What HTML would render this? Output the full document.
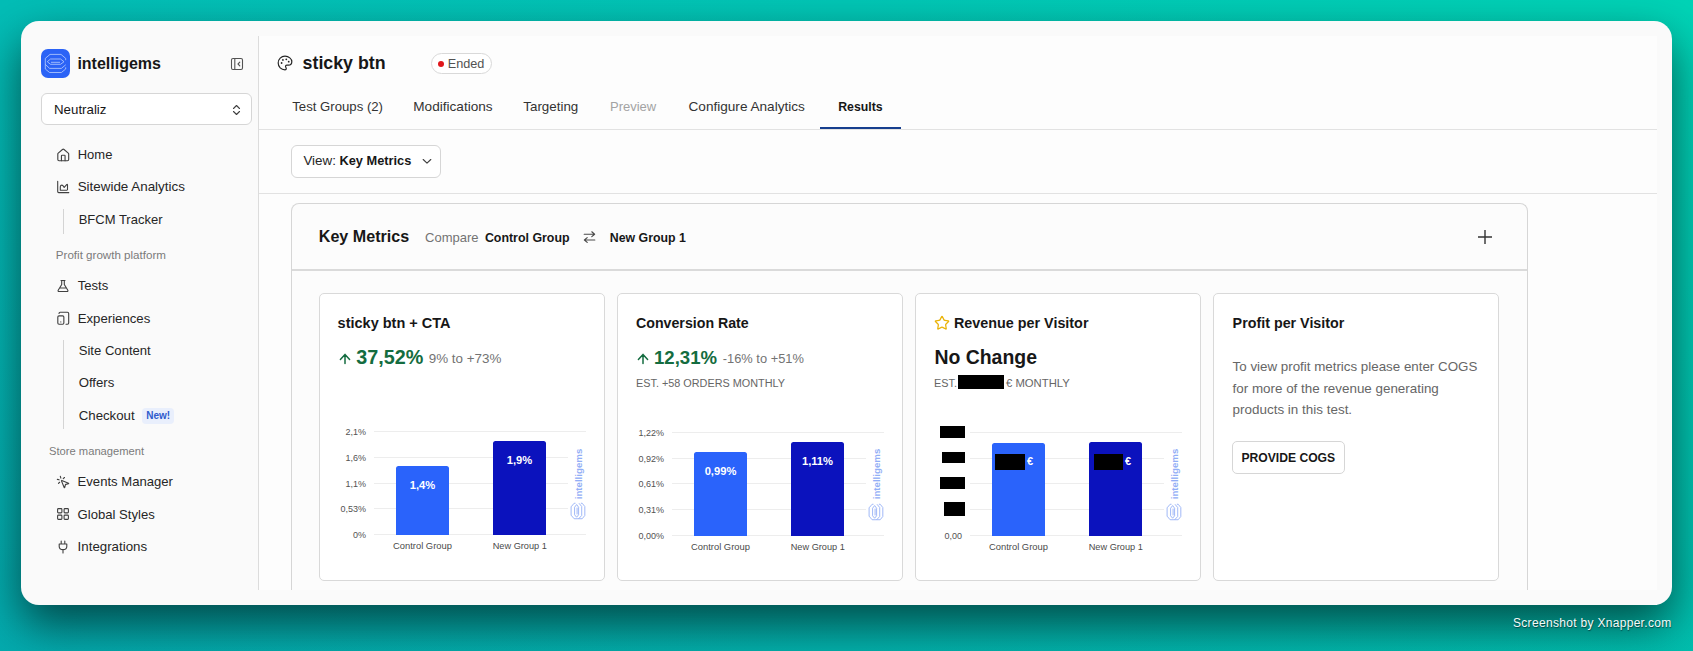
<!DOCTYPE html>
<html><head><meta charset="utf-8"><title>Results</title><style>
*{margin:0;padding:0;box-sizing:border-box}
html,body{width:1693px;height:651px;overflow:hidden}
body{position:relative;font-family:"Liberation Sans",sans-serif;
 background:linear-gradient(180deg,rgba(0,0,0,0) 0%,rgba(10,40,120,0.12) 100%),linear-gradient(90deg,#03bdb6 0%,#02c6b5 50%,#00d3b6 100%);}
.a{position:absolute}
.t{position:absolute;white-space:nowrap;line-height:1}
</style></head>
<body>
<div class="a" style="left:21px;top:21px;width:1651px;height:584px;border-radius:18px;box-shadow:0 20px 46px rgba(0,0,0,0.58);background:#fafafa"></div>
<div class="a" style="left:258px;top:36px;width:1399px;height:554px;background:#fdfdfd;border-left:1px solid #dcdcdc"></div>
<div class="a" style="left:41px;top:49px;width:29px;height:29px;background:#2b63f6;border-radius:7px"></div>
<svg class="a" style="left:41px;top:49px;" width="29" height="29" viewBox="0 0 29 29" fill="none"><g stroke="#c3d4fd" stroke-width="0.75" fill="none" stroke-linejoin="round">
<path d="M4.3 9.4 L9 5.4 L20 5.4 L24.7 9.4"/>
<path d="M4.3 9.4 L4.3 20 L8.6 23.5 L20.4 23.5 L24.7 20 L24.7 18.3"/>
<path d="M24.7 9.4 L24.7 11.2"/>
<path d="M9.5 10 L19.5 10 L23 12.7 L19.5 15.3 L9.5 15.3 L6.3 12.7 Z"/>
<path d="M10 13.3 L19 13.3"/>
<path d="M4.3 15.4 L8.6 19.4 L20.4 19.4 L24.7 15.8"/>
</g></svg>
<div class="t " style="left:77.4px;top:56px;font-size:16px;font-weight:700;color:#171717;">intelligems</div>
<svg class="a" style="left:230px;top:57px;" width="14" height="14" viewBox="0 0 14 14" fill="none"><rect x="1.5" y="1.5" width="11" height="11" rx="1.5" stroke="#525252" stroke-width="1.1"/>
<line x1="4.8" y1="1.5" x2="4.8" y2="12.5" stroke="#525252" stroke-width="1.1"/>
<path d="M9.8 5.2 L8 7 L9.8 8.8" stroke="#525252" stroke-width="1.1" stroke-linecap="round" stroke-linejoin="round"/></svg>
<div class="a" style="left:41px;top:93px;width:211px;height:32px;background:#fff;border:1px solid #d6d6d6;border-radius:6px"></div>
<div class="t " style="left:54.0px;top:103px;font-size:13.3px;font-weight:400;color:#171717;">Neutraliz</div>
<svg class="a" style="left:231px;top:104px;" width="11" height="12" viewBox="0 0 11 12" fill="none"><path d="M2.5 4.5 L5.5 1.5 L8.5 4.5 M2.5 7.5 L5.5 10.5 L8.5 7.5" stroke="#404040" stroke-width="1.1" stroke-linecap="round" stroke-linejoin="round"/></svg>
<svg class="a" style="left:55.6px;top:147.9px" width="14.5" height="14.5" viewBox="0 0 24 24" fill="none" stroke="#404040" stroke-width="1.85" stroke-linecap="round" stroke-linejoin="round"><path d="M15 21v-8a1 1 0 0 0-1-1h-4a1 1 0 0 0-1 1v8"/><path d="M3 10a2 2 0 0 1 .709-1.528l7-5.999a2 2 0 0 1 2.582 0l7 5.999A2 2 0 0 1 21 10v9a2 2 0 0 1-2 2H5a2 2 0 0 1-2-2z"/></svg>
<div class="t " style="left:77.7px;top:148px;font-size:13px;font-weight:400;color:#262626;">Home</div>
<svg class="a" style="left:56px;top:180px;" width="14" height="14" viewBox="0 0 14 14" fill="none"><path d="M1.7 1.2 L1.7 11.6 Q1.7 12.6 2.7 12.6 L12.8 12.6" stroke="#404040" stroke-width="1.1" stroke-linecap="round"/><path d="M4.3 10.2 L4.3 6.8 Q4.5 5 6 5.1 Q7 5.3 8.2 7.4 L10.9 4.4 Q11.5 4.2 11.5 5 L11.5 9.6 Q11.5 10.2 10.9 10.2 Z" stroke="#404040" stroke-width="1.1" stroke-linejoin="round"/></svg>
<div class="t " style="left:77.7px;top:180px;font-size:13.4px;font-weight:400;color:#262626;">Sitewide Analytics</div>
<div class="a" style="left:63px;top:209px;width:1px;height:25px;background:#d4d4d4"></div>
<div class="t " style="left:78.7px;top:213px;font-size:13px;font-weight:400;color:#262626;">BFCM Tracker</div>
<div class="t " style="left:55.8px;top:249px;font-size:11.6px;font-weight:400;color:#7a7a7a;">Profit growth platform</div>
<svg class="a" style="left:56px;top:279px;" width="14" height="14" viewBox="0 0 14 14" fill="none"><path d="M5 1.5 L9 1.5 M5.7 1.5 L5.7 5.5 L2.2 11.2 Q1.7 12.5 3 12.5 L11 12.5 Q12.3 12.5 11.8 11.2 L8.3 5.5 L8.3 1.5 M3.8 9 L10.2 9" stroke="#404040" stroke-width="1.1" stroke-linejoin="round" stroke-linecap="round"/></svg>
<div class="t " style="left:77.7px;top:279px;font-size:13.1px;font-weight:400;color:#262626;">Tests</div>
<svg class="a" style="left:55.8px;top:311.3px" width="14.5" height="14.5" viewBox="0 0 24 24" fill="none" stroke="#404040" stroke-width="1.85" stroke-linecap="round" stroke-linejoin="round"><rect width="10" height="14" x="3" y="8" rx="2"/><path d="M5 4a2 2 0 0 1 2-2h12a2 2 0 0 1 2 2v16a2 2 0 0 1-2 2h-2.4"/><path d="M8 18h.01"/></svg>
<div class="t " style="left:77.7px;top:312px;font-size:13.2px;font-weight:400;color:#262626;">Experiences</div>
<div class="a" style="left:63px;top:340px;width:1px;height:89px;background:#d4d4d4"></div>
<div class="t " style="left:78.7px;top:344px;font-size:13.1px;font-weight:400;color:#262626;">Site Content</div>
<div class="t " style="left:78.7px;top:376px;font-size:13.2px;font-weight:400;color:#262626;">Offers</div>
<div class="t " style="left:78.7px;top:409px;font-size:13.25px;font-weight:400;color:#262626;">Checkout</div>
<div class="a" style="left:142px;top:408px;width:32px;height:16px;background:#e9effc;border-radius:4px"></div>
<div class="t " style="left:146.3px;top:411px;font-size:10px;font-weight:700;color:#2f5bcc;">New!</div>
<div class="t " style="left:49.0px;top:446px;font-size:11.2px;font-weight:400;color:#7a7a7a;">Store management</div>
<svg class="a" style="left:56.2px;top:475.2px" width="14.5" height="14.5" viewBox="0 0 24 24" fill="none" stroke="#404040" stroke-width="1.85" stroke-linecap="round" stroke-linejoin="round"><path d="M14 4.1 12 6"/><path d="m5.1 8-2.9-.8"/><path d="m6 12-1.9 2"/><path d="M7.2 2.2 8 5.1"/><path d="M9.037 9.69a.498.498 0 0 1 .653-.653l11 4.5a.5.5 0 0 1-.074.949l-4.349 1.041a1 1 0 0 0-.74.739l-1.04 4.35a.5.5 0 0 1-.95.074z"/></svg>
<div class="t " style="left:77.6px;top:475px;font-size:13.1px;font-weight:400;color:#262626;">Events Manager</div>
<svg class="a" style="left:56px;top:507px;" width="14" height="14" viewBox="0 0 14 14" fill="none"><rect x="1.6" y="1.6" width="4.3" height="4.3" rx="0.8" stroke="#404040" stroke-width="1.1"/><rect x="8.1" y="1.6" width="4.3" height="4.3" rx="0.8" stroke="#404040" stroke-width="1.1"/><rect x="1.6" y="8.1" width="4.3" height="4.3" rx="0.8" stroke="#404040" stroke-width="1.1"/><rect x="8.1" y="8.1" width="4.3" height="4.3" rx="0.8" stroke="#404040" stroke-width="1.1"/></svg>
<div class="t " style="left:77.6px;top:508px;font-size:13.1px;font-weight:400;color:#262626;">Global Styles</div>
<svg class="a" style="left:56px;top:540px;" width="14" height="14" viewBox="0 0 14 14" fill="none"><path d="M5.2 1 L5.2 4 M8.8 1 L8.8 4 M3.2 4 L10.8 4 L10.8 6.5 Q10.8 9.6 7 9.6 Q3.2 9.6 3.2 6.5 Z M7 9.6 L7 13" stroke="#404040" stroke-width="1.1" stroke-linecap="round" stroke-linejoin="round"/></svg>
<div class="t " style="left:77.6px;top:540px;font-size:13.3px;font-weight:400;color:#262626;">Integrations</div>
<svg class="a" style="left:277px;top:55px;" width="16" height="16" viewBox="0 0 16 16" fill="none"><path d="M8 1.2 C4.2 1.2 1.2 4.2 1.2 8 C1.2 11.8 4.2 14.8 8 14.8 C8.8 14.8 9.3 14.2 9.3 13.5 C9.3 13.1 9.1 12.8 8.9 12.5 C8.7 12.2 8.5 11.9 8.5 11.5 C8.5 10.8 9.1 10.2 9.8 10.2 L11.4 10.2 C13.3 10.2 14.8 8.7 14.8 6.8 C14.8 3.7 11.8 1.2 8 1.2 Z" stroke="#262626" stroke-width="1.2" stroke-linejoin="round"/>
<circle cx="4.6" cy="8" r="0.9" fill="#262626"/><circle cx="5.9" cy="4.9" r="0.9" fill="#262626"/><circle cx="9.3" cy="4.3" r="0.9" fill="#262626"/><circle cx="11.7" cy="6.7" r="0.9" fill="#262626"/></svg>
<div class="t " style="left:302.6px;top:55px;font-size:17.8px;font-weight:700;color:#171717;">sticky btn</div>
<div class="a" style="left:431px;top:53px;width:61px;height:21px;background:#fff;border:1px solid #d9d9d9;border-radius:11px"></div>
<div class="a" style="left:438px;top:60.6px;width:6px;height:6px;background:#e0161b;border-radius:50%"></div>
<div class="t " style="left:447.7px;top:58px;font-size:12.7px;font-weight:400;color:#525252;">Ended</div>
<div class="t " style="left:292.3px;top:100px;font-size:13.16px;font-weight:400;color:#333333;">Test Groups (2)</div>
<div class="t " style="left:413.3px;top:100px;font-size:13.6px;font-weight:400;color:#333333;">Modifications</div>
<div class="t " style="left:523.3px;top:100px;font-size:13.37px;font-weight:400;color:#333333;">Targeting</div>
<div class="t " style="left:610.0px;top:100px;font-size:13px;font-weight:400;color:#a3a3a3;">Preview</div>
<div class="t " style="left:688.5px;top:100px;font-size:13.6px;font-weight:400;color:#333333;">Configure Analytics</div>
<div class="t " style="left:838.2px;top:101px;font-size:12.3px;font-weight:700;color:#171717;">Results</div>
<div class="a" style="left:259px;top:129px;width:1398px;height:1px;background:#e2e2e2"></div>
<div class="a" style="left:820px;top:127px;width:81px;height:2px;background:#173f8e"></div>
<div class="a" style="left:291px;top:145px;width:150px;height:33px;background:#fff;border:1px solid #d6d6d6;border-radius:6px"></div>
<div class="t " style="left:303.4px;top:154px;font-size:13.4px;font-weight:400;color:#262626;">View:</div>
<div class="t " style="left:339.5px;top:155px;font-size:12.8px;font-weight:700;color:#171717;">Key Metrics</div>
<svg class="a" style="left:422px;top:158px;" width="10" height="7" viewBox="0 0 10 7" fill="none"><path d="M1.2 1.5 L5 5.2 L8.8 1.5" stroke="#404040" stroke-width="1.1" stroke-linecap="round" stroke-linejoin="round"/></svg>
<div class="a" style="left:259px;top:193px;width:1398px;height:1px;background:#e2e2e2"></div>
<div class="a" style="left:291px;top:203px;width:1237px;height:387px;background:#fcfcfc;border:1px solid #d6d6d6;border-bottom:none;border-radius:8px 8px 0 0"></div>
<div class="a" style="left:292px;top:269px;width:1235px;height:2px;background:#dadada"></div>
<div class="t " style="left:318.8px;top:228px;font-size:16.1px;font-weight:700;color:#171717;">Key Metrics</div>
<div class="t " style="left:425.1px;top:231px;font-size:13px;font-weight:400;color:#737373;">Compare</div>
<div class="t " style="left:484.9px;top:232px;font-size:12.4px;font-weight:700;color:#171717;">Control Group</div>
<svg class="a" style="left:583px;top:231px;" width="13" height="13" viewBox="0 0 13 13" fill="none"><path d="M1.2 3.2 L11.6 3.2 M8.8 0.8 L11.6 3.2 L8.8 5.6 M11.8 9 L1.4 9 M4.2 6.6 L1.4 9 L4.2 11.4" stroke="#4a4a4a" stroke-width="1.15" stroke-linecap="round" stroke-linejoin="round"/></svg>
<div class="t " style="left:609.8px;top:232px;font-size:12.35px;font-weight:700;color:#171717;">New Group 1</div>
<svg class="a" style="left:1477px;top:229px;" width="16" height="16" viewBox="0 0 16 16" fill="none"><path d="M8 1 L8 15 M1 8 L15 8" stroke="#333" stroke-width="1.4"/></svg>
<div class="a" style="left:319px;top:293px;width:286px;height:288px;background:#fff;border:1px solid #d9d9d9;border-radius:5px"></div>
<div class="t " style="left:337.6px;top:316px;font-size:14.5px;font-weight:700;color:#171717;">sticky btn + CTA</div>
<svg class="a" style="left:339px;top:352.8px;" width="12" height="12" viewBox="0 0 12 12" fill="none"><path d="M6 10.6 L6 1.6 M1.4 6.4 L6 1.4 L10.6 6.4" stroke="#146c40" stroke-width="1.5" stroke-linecap="round" stroke-linejoin="round"/></svg>
<div class="t " style="left:356.3px;top:348px;font-size:19.75px;font-weight:700;color:#146c40;">37,52%</div>
<div class="t " style="left:428.8px;top:352px;font-size:13.4px;font-weight:400;color:#737373;">9% to +73%</div>
<div class="a" style="left:374px;top:431px;width:212px;height:1px;background:#ededed"></div>
<div class="a" style="left:374px;top:457px;width:194px;height:1px;background:#ededed"></div>
<div class="a" style="left:374px;top:483px;width:194px;height:1px;background:#ededed"></div>
<div class="a" style="left:374px;top:508px;width:194px;height:1px;background:#ededed"></div>
<div class="a" style="left:374px;top:534px;width:212px;height:1px;background:#ededed"></div>
<div class="t" style="left:166.0px;width:200px;text-align:right;top:428px;font-size:9px;font-weight:400;color:#525252;">2,1%</div>
<div class="t" style="left:166.0px;width:200px;text-align:right;top:454px;font-size:9px;font-weight:400;color:#525252;">1,6%</div>
<div class="t" style="left:166.0px;width:200px;text-align:right;top:480px;font-size:9px;font-weight:400;color:#525252;">1,1%</div>
<div class="t" style="left:166.0px;width:200px;text-align:right;top:505px;font-size:9px;font-weight:400;color:#525252;">0,53%</div>
<div class="t" style="left:166.0px;width:200px;text-align:right;top:531px;font-size:9px;font-weight:400;color:#525252;">0%</div>
<div class="a" style="left:396px;top:466px;width:53px;height:69px;background:#2a63fb;border-radius:2.5px 2.5px 0 0"></div>
<div class="t" style="left:322.5px;width:200px;text-align:center;top:480px;font-size:11.2px;font-weight:700;color:#fff;">1,4%</div>
<div class="a" style="left:493px;top:441px;width:53px;height:94px;background:#0b12bd;border-radius:2.5px 2.5px 0 0"></div>
<div class="t" style="left:419.5px;width:200px;text-align:center;top:455px;font-size:11.2px;font-weight:700;color:#fff;">1,9%</div>
<div class="t" style="left:322.5px;width:200px;text-align:center;top:541px;font-size:9.4px;font-weight:400;color:#4a4a4a;">Control Group</div>
<div class="t" style="left:419.8px;width:200px;text-align:center;top:542px;font-size:9.2px;font-weight:400;color:#4a4a4a;">New Group 1</div>
<div class="t" style="left:548.8px;top:468.8px;width:60px;height:10px;text-align:center;font-size:9.7px;font-weight:700;color:#92aef6;transform:rotate(-90deg);line-height:10px">intelligems</div>
<svg class="a" style="left:567.1px;top:499.9px" width="22" height="22" viewBox="0 0 29 29" fill="none"><g transform="rotate(-90 14.5 14.5)" stroke="#92aef6" stroke-width="1.15" stroke-linejoin="round"><path d="M4.3 9.4 L9 5.4 L20 5.4 L24.7 9.4"/>
<path d="M4.3 9.4 L4.3 20 L8.6 23.5 L20.4 23.5 L24.7 20 L24.7 18.3"/>
<path d="M24.7 9.4 L24.7 11.2"/>
<path d="M9.5 10 L19.5 10 L23 12.7 L19.5 15.3 L9.5 15.3 L6.3 12.7 Z"/>
<path d="M10 13.3 L19 13.3"/>
<path d="M4.3 15.4 L8.6 19.4 L20.4 19.4 L24.7 15.8"/></g></svg>
<div class="a" style="left:617px;top:293px;width:286px;height:288px;background:#fff;border:1px solid #d9d9d9;border-radius:5px"></div>
<div class="t " style="left:636.0px;top:316px;font-size:14.2px;font-weight:700;color:#171717;">Conversion Rate</div>
<svg class="a" style="left:637px;top:352.8px;" width="12" height="12" viewBox="0 0 12 12" fill="none"><path d="M6 10.6 L6 1.6 M1.4 6.4 L6 1.4 L10.6 6.4" stroke="#146c40" stroke-width="1.5" stroke-linecap="round" stroke-linejoin="round"/></svg>
<div class="t " style="left:654.0px;top:349px;font-size:18.6px;font-weight:700;color:#146c40;">12,31%</div>
<div class="t " style="left:722.8px;top:353px;font-size:12.85px;font-weight:400;color:#737373;">-16% to +51%</div>
<div class="t " style="left:636.0px;top:378px;font-size:10.85px;font-weight:400;color:#666666;">EST. +58 ORDERS MONTHLY</div>
<div class="a" style="left:672px;top:432px;width:212px;height:1px;background:#ededed"></div>
<div class="a" style="left:672px;top:458px;width:194px;height:1px;background:#ededed"></div>
<div class="a" style="left:672px;top:483px;width:194px;height:1px;background:#ededed"></div>
<div class="a" style="left:672px;top:509px;width:194px;height:1px;background:#ededed"></div>
<div class="a" style="left:672px;top:535px;width:212px;height:1px;background:#ededed"></div>
<div class="t" style="left:464.0px;width:200px;text-align:right;top:429px;font-size:9px;font-weight:400;color:#525252;">1,22%</div>
<div class="t" style="left:464.0px;width:200px;text-align:right;top:455px;font-size:9px;font-weight:400;color:#525252;">0,92%</div>
<div class="t" style="left:464.0px;width:200px;text-align:right;top:480px;font-size:9px;font-weight:400;color:#525252;">0,61%</div>
<div class="t" style="left:464.0px;width:200px;text-align:right;top:506px;font-size:9px;font-weight:400;color:#525252;">0,31%</div>
<div class="t" style="left:464.0px;width:200px;text-align:right;top:532px;font-size:9px;font-weight:400;color:#525252;">0,00%</div>
<div class="a" style="left:694px;top:452px;width:53px;height:84px;background:#2a63fb;border-radius:2.5px 2.5px 0 0"></div>
<div class="t" style="left:620.5px;width:200px;text-align:center;top:466px;font-size:11.2px;font-weight:700;color:#fff;">0,99%</div>
<div class="a" style="left:791px;top:442px;width:53px;height:94px;background:#0b12bd;border-radius:2.5px 2.5px 0 0"></div>
<div class="t" style="left:717.5px;width:200px;text-align:center;top:456px;font-size:11.2px;font-weight:700;color:#fff;">1,11%</div>
<div class="t" style="left:620.5px;width:200px;text-align:center;top:542px;font-size:9.4px;font-weight:400;color:#4a4a4a;">Control Group</div>
<div class="t" style="left:717.8px;width:200px;text-align:center;top:543px;font-size:9.2px;font-weight:400;color:#4a4a4a;">New Group 1</div>
<div class="t" style="left:846.8px;top:468.8px;width:60px;height:10px;text-align:center;font-size:9.7px;font-weight:700;color:#92aef6;transform:rotate(-90deg);line-height:10px">intelligems</div>
<svg class="a" style="left:865.1px;top:500.9px" width="22" height="22" viewBox="0 0 29 29" fill="none"><g transform="rotate(-90 14.5 14.5)" stroke="#92aef6" stroke-width="1.15" stroke-linejoin="round"><path d="M4.3 9.4 L9 5.4 L20 5.4 L24.7 9.4"/>
<path d="M4.3 9.4 L4.3 20 L8.6 23.5 L20.4 23.5 L24.7 20 L24.7 18.3"/>
<path d="M24.7 9.4 L24.7 11.2"/>
<path d="M9.5 10 L19.5 10 L23 12.7 L19.5 15.3 L9.5 15.3 L6.3 12.7 Z"/>
<path d="M10 13.3 L19 13.3"/>
<path d="M4.3 15.4 L8.6 19.4 L20.4 19.4 L24.7 15.8"/></g></svg>
<div class="a" style="left:915px;top:293px;width:286px;height:288px;background:#fff;border:1px solid #d9d9d9;border-radius:5px"></div>
<svg class="a" style="left:933.9px;top:315.2px" width="16" height="16" viewBox="0 0 24 24" fill="none" stroke="#eab308" stroke-width="1.9" stroke-linecap="round" stroke-linejoin="round"><path d="M11.525 2.295a.53.53 0 0 1 .95 0l2.31 4.679a2.123 2.123 0 0 0 1.595 1.16l5.166.756a.53.53 0 0 1 .294.904l-3.736 3.638a2.123 2.123 0 0 0-.611 1.878l.882 5.14a.53.53 0 0 1-.771.56l-4.618-2.428a2.122 2.122 0 0 0-1.973 0L6.396 21.01a.53.53 0 0 1-.77-.56l.881-5.139a2.122 2.122 0 0 0-.611-1.879L2.16 9.795a.53.53 0 0 1 .294-.906l5.165-.755a2.122 2.122 0 0 0 1.597-1.16z"/></svg>
<div class="t " style="left:954.0px;top:316px;font-size:14.35px;font-weight:700;color:#171717;">Revenue per Visitor</div>
<div class="t " style="left:934.4px;top:348px;font-size:19.45px;font-weight:700;color:#171717;">No Change</div>
<div class="t " style="left:934.0px;top:378px;font-size:10.85px;font-weight:400;color:#666666;">EST.</div>
<div class="a" style="left:958px;top:375px;width:46px;height:14px;background:#000"></div>
<div class="t " style="left:1006.0px;top:378px;font-size:11.3px;font-weight:400;color:#666666;">€ MONTHLY</div>
<div class="a" style="left:970px;top:432px;width:212px;height:1px;background:#ededed"></div>
<div class="a" style="left:970px;top:458px;width:194px;height:1px;background:#ededed"></div>
<div class="a" style="left:970px;top:483px;width:194px;height:1px;background:#ededed"></div>
<div class="a" style="left:970px;top:509px;width:194px;height:1px;background:#ededed"></div>
<div class="a" style="left:970px;top:535px;width:212px;height:1px;background:#ededed"></div>
<div class="t" style="left:762.0px;width:200px;text-align:right;top:532px;font-size:9px;font-weight:400;color:#525252;">0,00</div>
<div class="a" style="left:992px;top:443px;width:53px;height:93px;background:#2a63fb;border-radius:2.5px 2.5px 0 0"></div>
<div class="a" style="left:1089px;top:442px;width:53px;height:94px;background:#0b12bd;border-radius:2.5px 2.5px 0 0"></div>
<div class="t" style="left:918.5px;width:200px;text-align:center;top:542px;font-size:9.4px;font-weight:400;color:#4a4a4a;">Control Group</div>
<div class="t" style="left:1015.8px;width:200px;text-align:center;top:543px;font-size:9.2px;font-weight:400;color:#4a4a4a;">New Group 1</div>
<div class="t" style="left:1144.8px;top:468.8px;width:60px;height:10px;text-align:center;font-size:9.7px;font-weight:700;color:#92aef6;transform:rotate(-90deg);line-height:10px">intelligems</div>
<svg class="a" style="left:1163.1px;top:500.9px" width="22" height="22" viewBox="0 0 29 29" fill="none"><g transform="rotate(-90 14.5 14.5)" stroke="#92aef6" stroke-width="1.15" stroke-linejoin="round"><path d="M4.3 9.4 L9 5.4 L20 5.4 L24.7 9.4"/>
<path d="M4.3 9.4 L4.3 20 L8.6 23.5 L20.4 23.5 L24.7 20 L24.7 18.3"/>
<path d="M24.7 9.4 L24.7 11.2"/>
<path d="M9.5 10 L19.5 10 L23 12.7 L19.5 15.3 L9.5 15.3 L6.3 12.7 Z"/>
<path d="M10 13.3 L19 13.3"/>
<path d="M4.3 15.4 L8.6 19.4 L20.4 19.4 L24.7 15.8"/></g></svg>
<div class="a" style="left:940px;top:426px;width:25px;height:12px;background:#000"></div>
<div class="a" style="left:942px;top:451.5px;width:23px;height:11.5px;background:#000"></div>
<div class="a" style="left:940px;top:477px;width:25px;height:11.5px;background:#000"></div>
<div class="a" style="left:944px;top:502px;width:21px;height:14px;background:#000"></div>
<div class="a" style="left:995px;top:454px;width:30px;height:16px;background:#000"></div>
<div class="t " style="left:1027.0px;top:456px;font-size:11px;font-weight:700;color:#fff;">€</div>
<div class="a" style="left:1094px;top:454px;width:29px;height:16px;background:#000"></div>
<div class="t " style="left:1125.0px;top:456px;font-size:11px;font-weight:700;color:#fff;">€</div>
<div class="a" style="left:1213px;top:293px;width:286px;height:288px;background:#fff;border:1px solid #d9d9d9;border-radius:5px"></div>
<div class="t " style="left:1232.6px;top:316px;font-size:14.3px;font-weight:700;color:#171717;">Profit per Visitor</div>
<div class="t " style="left:1232.6px;top:360px;font-size:13.35px;font-weight:400;color:#666666;">To view profit metrics please enter COGS</div>
<div class="t " style="left:1232.6px;top:382px;font-size:13.4px;font-weight:400;color:#666666;">for more of the revenue generating</div>
<div class="t " style="left:1232.6px;top:403px;font-size:13.45px;font-weight:400;color:#666666;">products in this test.</div>
<div class="a" style="left:1232px;top:441px;width:113px;height:33px;background:#fff;border:1px solid #d6d6d6;border-radius:5px"></div>
<div class="t " style="left:1241.4px;top:452px;font-size:12.15px;font-weight:700;color:#171717;">PROVIDE COGS</div>
<div class="a" style="left:258px;top:590px;width:1399px;height:15px;background:#fafafa"></div>
<div class="t " style="left:1513.0px;top:617px;font-size:12px;font-weight:400;color:#f4fbfa;letter-spacing:0.31px;text-shadow:0.5px 1px 1px rgba(0,40,40,0.7)">Screenshot by Xnapper.com</div>

</body></html>
